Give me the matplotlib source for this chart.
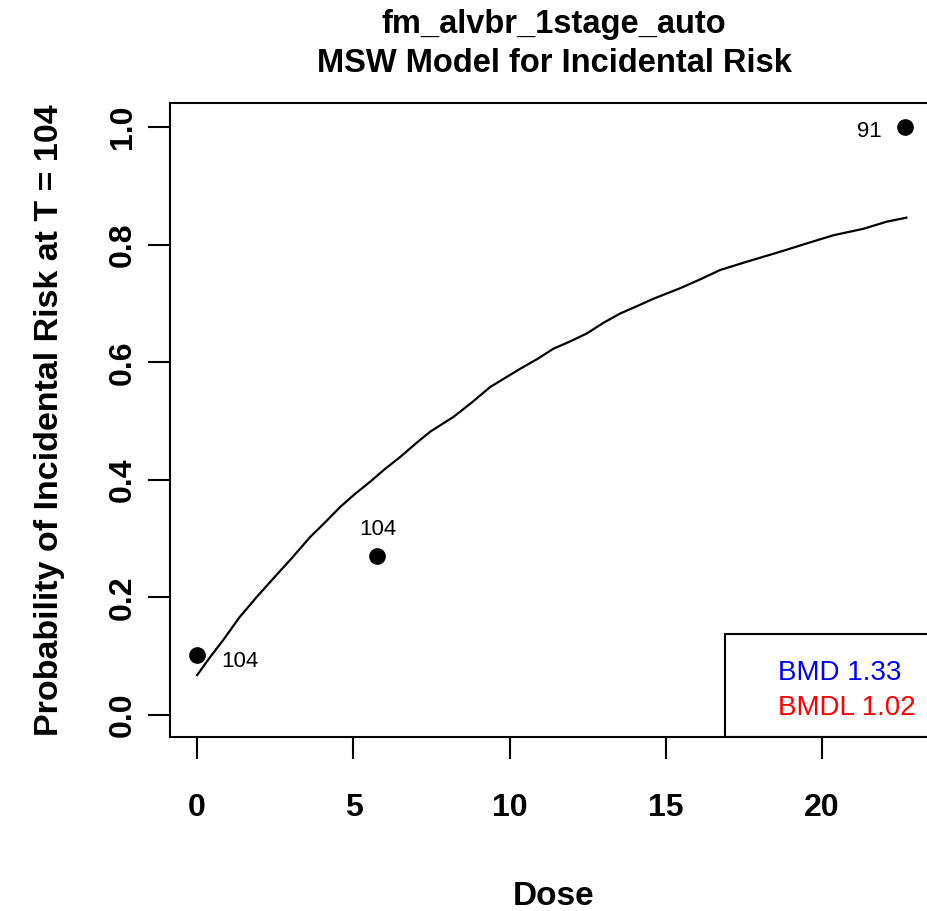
import matplotlib
matplotlib.use("Agg")
import matplotlib.pyplot as plt
from matplotlib.patches import Rectangle

plt.rcParams['font.family'] = ['Liberation Sans', 'DejaVu Sans']

# observed data
dose = [0.0, 5.77, 22.65]
prob = [0.102, 0.270, 1.0]
n_animals = ["104", "104", "91"]

# fitted curve
curve_dose = [0.0, 0.42, 0.84, 1.35, 1.91, 2.45, 2.98, 3.62, 4.1, 4.58, 5.05,
              5.54, 6.0, 6.5, 7.0, 7.46, 8.2, 8.8, 9.38, 10.34, 10.9, 11.4,
              12.0, 12.47, 13.0, 13.54, 14.1, 14.6, 15.46, 16.1, 16.74, 17.59,
              18.66, 19.5, 20.36, 21.32, 22.06, 22.7]
curve_prob = [0.068, 0.099, 0.128, 0.166, 0.201, 0.233, 0.264, 0.303, 0.328,
              0.354, 0.376, 0.397, 0.418, 0.439, 0.462, 0.482, 0.507, 0.532,
              0.558, 0.589, 0.606, 0.623, 0.637, 0.649, 0.667, 0.683, 0.696,
              0.708, 0.726, 0.741, 0.757, 0.771, 0.788, 0.802, 0.816, 0.827,
              0.839, 0.846]

bmd = 1.33
bmdl = 1.02

fig = plt.figure(figsize=(9.27, 9.11), dpi=100)
ax = fig.add_axes([170 / 927, 1 - 737 / 911, 768 / 927, 634 / 911])

ax.plot(curve_dose, curve_prob, color="black", lw=1.6)
ax.plot(dose, prob, "o", color="black", ms=11)

# sample size labels
ax.annotate(n_animals[0], (dose[0], prob[0]), xytext=(17, -5), textcoords="offset points",
            ha="left", va="center", fontsize=16)
ax.annotate(n_animals[1], (dose[1], prob[1]), xytext=(0, 12), textcoords="offset points",
            ha="center", va="bottom", fontsize=16)
ax.annotate(n_animals[2], (dose[2], prob[2]), xytext=(-17, -3), textcoords="offset points",
            ha="right", va="center", fontsize=16)

ax.set_xlim(-0.87, 23.71)
ax.set_ylim(-0.0374, 1.041)
ax.set_xticks([0, 5, 10, 15, 20])
ax.set_yticks([0.0, 0.2, 0.4, 0.6, 0.8, 1.0])
ax.set_yticklabels(["0.0", "0.2", "0.4", "0.6", "0.8", "1.0"], rotation=90, va="center")
ax.tick_params(axis="both", length=16, width=1.5, labelsize=23)
ax.tick_params(axis="x", pad=24)
ax.tick_params(axis="y", pad=7)
for lab in ax.get_xticklabels() + ax.get_yticklabels():
    lab.set_fontweight("bold")
for sp in ax.spines.values():
    sp.set_linewidth(1.5)

ax.set_xlabel("Dose", fontsize=24, fontweight="bold", labelpad=42)
ax.set_ylabel("Probability of Incidental Risk at T = 104", fontsize=24.5,
              fontweight="bold", labelpad=31)
ax.set_title("fm_alvbr_1stage_auto\nMSW Model for Incidental Risk", fontsize=23.5,
             fontweight="bold", pad=22, linespacing=1.35)

# BMD box in the lower right corner
ax.add_patch(Rectangle((16.9, -0.0374), 10, 0.175, fill=False, lw=1.5,
                       edgecolor="black", zorder=3))
ax.text(18.6, 0.072, "BMD %.2f" % bmd, color="blue", fontsize=20, va="center")
ax.text(18.6, 0.012, "BMDL %.2f" % bmdl, color="red", fontsize=20, va="center")

fig.savefig("out.png", dpi=100)
